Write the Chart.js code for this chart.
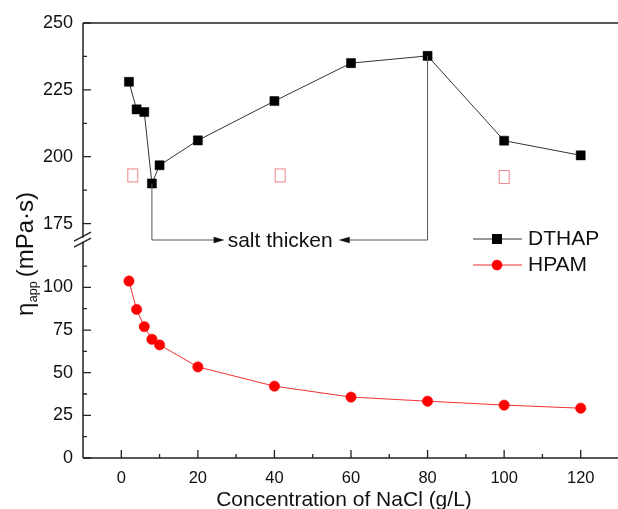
<!DOCTYPE html>
<html>
<head>
<meta charset="utf-8">
<title>Apparent viscosity vs NaCl concentration</title>
<script src="https://cdn.jsdelivr.net/npm/chart.js@4.4.1/dist/chart.umd.min.js"></script>
<style>
  html, body { margin: 0; padding: 0; background: #fff; overflow: hidden; }
  #wrap { width: 640px; height: 509px; }
</style>
</head>
<body>
<div id="wrap"><canvas id="viscosityChart" width="640" height="509"></canvas></div>
<script>
// apparent viscosity (mPa·s) against NaCl concentration (g/L)
const concentration = [2, 4, 6, 8, 10, 20, 40, 60, 80, 100, 120];
const dthapEta = [228.0, 217.7, 216.7, 190.0, 196.8, 206.1, 220.8, 235.0, 237.7, 206.0, 200.5];
const hpamEta = [103.7, 87.1, 77.0, 69.6, 66.3, 53.4, 42.1, 35.7, 33.3, 31.0, 29.2];

const xTicks = [0, 20, 40, 60, 80, 100, 120];
const upperTicks = [175, 200, 225, 250];
const lowerTicks = [0, 25, 50, 75, 100];

// open squares left on the upper panel
const boxX = [3, 41.5, 100];
const boxY = [193, 193, 192.4];

// salt-thickening span, marked by a bracket under the DTHAP curve
const thickenFrom = 8;
const thickenTo = 80;
const thickenLabel = 'salt thicken';
const thickenLabelAt = 41.5;

const INK = '#111';
const AXIS = '#222';
const FONT = '"Liberation Sans", Arial, Helvetica, sans-serif';

function pts(ys) {
  return concentration.map((c, i) => ({ x: c, y: ys[i] }));
}

function openBox(w, h, color) {
  const c = document.createElement('canvas');
  c.width = w + 2; c.height = h + 2;
  const g = c.getContext('2d');
  g.strokeStyle = color; g.lineWidth = 1;
  g.strokeRect(1.5, 1.5, w - 1, h - 1);
  return c;
}

function fixedTicks(values) {
  return (scale) => { scale.ticks = values.map(v => ({ value: v })); };
}

// axes box, inward ticks and the // break on the y axis
const axisFrame = {
  id: 'axisFrame',
  afterDraw(chart) {
    const { ctx, chartArea: a, scales } = chart;
    const x = scales.x, yT = scales.yTop, yB = scales.yBottom;
    ctx.save();
    ctx.strokeStyle = AXIS;
    ctx.lineWidth = 1.5;
    ctx.beginPath();
    ctx.moveTo(a.left, a.top); ctx.lineTo(a.right, a.top);
    ctx.moveTo(a.right, a.top); ctx.lineTo(a.right, a.bottom);
    ctx.moveTo(a.left, a.bottom); ctx.lineTo(a.right, a.bottom);
    ctx.moveTo(a.left, a.top); ctx.lineTo(a.left, a.bottom);
    ctx.stroke();

    ctx.lineWidth = 1.3;
    ctx.beginPath();
    xTicks.forEach(v => {
      const px = x.getPixelForValue(v);
      ctx.moveTo(px, a.bottom); ctx.lineTo(px, a.bottom - 8);
      const m = x.getPixelForValue(v + 10);
      if (v + 10 < x.max) { ctx.moveTo(m, a.bottom); ctx.lineTo(m, a.bottom - 4); }
    });
    [[yT, upperTicks], [yB, lowerTicks]].forEach(([s, vals]) => {
      vals.forEach(v => {
        const py = s.getPixelForValue(v);
        ctx.moveTo(a.left, py); ctx.lineTo(a.left + 8, py);
        [v - 12.5, v + 12.5].forEach(mv => {
          if (mv > s.min && mv < s.max && !vals.includes(mv)) {
            const my = s.getPixelForValue(mv);
            ctx.moveTo(a.left, my); ctx.lineTo(a.left + 4, my);
          }
        });
      });
    });
    ctx.stroke();

    // axis break
    const by = yT.bottom;
    ctx.fillStyle = '#fff';
    ctx.fillRect(a.left - 1.5, by - 2, 3, 4);
    ctx.lineWidth = 1.4;
    ctx.beginPath();
    [-3, 3].forEach(off => {
      ctx.moveTo(a.left - 9, by + off + 4.5);
      ctx.lineTo(a.left + 8, by + off - 4.5);
    });
    ctx.stroke();
    ctx.restore();
  }
};

// bracket with arrows pointing at the label
const thickenBracket = {
  id: 'thickenBracket',
  afterDatasetsDraw(chart) {
    const { ctx, scales } = chart;
    const x = scales.x, yT = scales.yTop;
    const iFrom = concentration.indexOf(thickenFrom);
    const iTo = concentration.indexOf(thickenTo);
    const x0 = x.getPixelForValue(thickenFrom), x1 = x.getPixelForValue(thickenTo);
    const yl = yT.bottom + 0.4;
    const cx = x.getPixelForValue(thickenLabelAt);
    ctx.save();
    ctx.font = '21px ' + FONT;
    const tw = ctx.measureText(thickenLabel).width;
    const tipL = cx - tw / 2 - 3, tipR = cx + tw / 2 + 6;
    ctx.strokeStyle = '#555';
    ctx.lineWidth = 1;
    ctx.beginPath();
    ctx.moveTo(x0, yT.getPixelForValue(dthapEta[iFrom]));
    ctx.lineTo(x0, yl); ctx.lineTo(tipL - 8, yl);
    ctx.moveTo(x1, yT.getPixelForValue(dthapEta[iTo]));
    ctx.lineTo(x1, yl); ctx.lineTo(tipR + 8, yl);
    ctx.stroke();
    ctx.fillStyle = '#111';
    ctx.beginPath();
    ctx.moveTo(tipL, yl); ctx.lineTo(tipL - 11, yl - 3.3); ctx.lineTo(tipL - 11, yl + 3.3); ctx.closePath();
    ctx.moveTo(tipR, yl); ctx.lineTo(tipR + 11, yl - 3.3); ctx.lineTo(tipR + 11, yl + 3.3); ctx.closePath();
    ctx.fill();
    ctx.fillStyle = INK;
    ctx.textAlign = 'center';
    ctx.textBaseline = 'alphabetic';
    ctx.fillText(thickenLabel, cx, yl + 7);
    ctx.restore();
  }
};

// legend, axis titles
const labels = {
  id: 'labels',
  afterDraw(chart) {
    const { ctx } = chart;
    ctx.save();
    ctx.fillStyle = INK;
    ctx.font = '21px ' + FONT;
    ctx.textBaseline = 'middle';

    // legend
    const rows = [
      { name: 'DTHAP', y: 239, line: '#333', draw: (px, py) => { ctx.fillStyle = '#000'; ctx.fillRect(px - 5, py - 5, 10, 10); } },
      { name: 'HPAM', y: 265, line: '#f03030', draw: (px, py) => { ctx.fillStyle = '#ff0000'; ctx.beginPath(); ctx.arc(px, py, 5.3, 0, Math.PI * 2); ctx.fill(); } },
    ];
    rows.forEach(r => {
      ctx.strokeStyle = r.line; ctx.lineWidth = 1;
      ctx.beginPath(); ctx.moveTo(473, r.y); ctx.lineTo(522, r.y); ctx.stroke();
      r.draw(497, r.y);
      ctx.fillStyle = INK;
      ctx.textAlign = 'left';
      ctx.fillText(r.name, 528, r.y);
    });

    // x title
    ctx.textAlign = 'center';
    ctx.textBaseline = 'alphabetic';
    ctx.fillText('Concentration of NaCl (g/L)', 344, 506);

    // y title, eta with subscript
    ctx.translate(33, 316);
    ctx.rotate(-Math.PI / 2);
    ctx.textAlign = 'left';
    ctx.font = '24px ' + FONT;
    ctx.fillText('η', 0, 0);
    let w = ctx.measureText('η').width;
    ctx.font = '12.5px ' + FONT;
    ctx.fillText('app', w + 0.5, 4);
    w += ctx.measureText('app').width + 4.5;
    ctx.font = '24px ' + FONT;
    ctx.fillText('(mPa·s)', w, 0);
    ctx.restore();
  }
};

const yCommon = {
  type: 'linear',
  position: 'left',
  stack: 'eta',
  grid: { display: false, drawTicks: false },
  border: { display: false },
  ticks: { color: INK, padding: 10, font: { family: FONT, size: 18 } },
  afterFit: (s) => { s.width = 83; },
};

new Chart(document.getElementById('viscosityChart'), {
  type: 'line',
  data: {
    datasets: [
      {
        label: 'DTHAP', yAxisID: 'yTop', data: pts(dthapEta),
        borderColor: '#333', borderWidth: 1,
        pointStyle: 'rect', pointRadius: 6.4, pointBackgroundColor: '#000', pointBorderColor: '#000', pointBorderWidth: 0.5,
      },
      {
        label: 'HPAM', yAxisID: 'yBottom', data: pts(hpamEta),
        borderColor: '#f03030', borderWidth: 1,
        pointStyle: 'circle', pointRadius: 5.2, pointBackgroundColor: '#ff0000', pointBorderColor: '#ff0000', pointBorderWidth: 0.5,
      },
      {
        label: 'boxes', yAxisID: 'yTop', showLine: false,
        data: boxX.map((v, i) => ({ x: v, y: boxY[i] })),
        pointStyle: openBox(11, 14, 'rgba(232,90,90,0.75)'), pointRadius: 6,
      },
    ],
  },
  options: {
    responsive: false,
    animation: false,
    devicePixelRatio: 1,
    layout: { padding: { top: 23, right: 21, bottom: 0, left: 0 } },
    plugins: { legend: { display: false }, tooltip: { enabled: false } },
    scales: {
      x: {
        type: 'linear', position: 'bottom', min: -10, max: 130,
        grid: { display: false, drawTicks: false }, border: { display: false },
        ticks: { color: INK, padding: 11, font: { family: FONT, size: 16.5 } },
        afterBuildTicks: fixedTicks(xTicks),
        afterFit: (s) => { s.height = 51; },
      },
      yBottom: Object.assign({}, yCommon, {
        min: 0, max: 128, stackWeight: 218.5,
        afterBuildTicks: fixedTicks(lowerTicks),
      }),
      yTop: Object.assign({}, yCommon, {
        min: 169, max: 250, stackWeight: 216.7,
        afterBuildTicks: fixedTicks(upperTicks),
      }),
    },
  },
  plugins: [axisFrame, thickenBracket, labels],
});
</script>
</body>
</html>
